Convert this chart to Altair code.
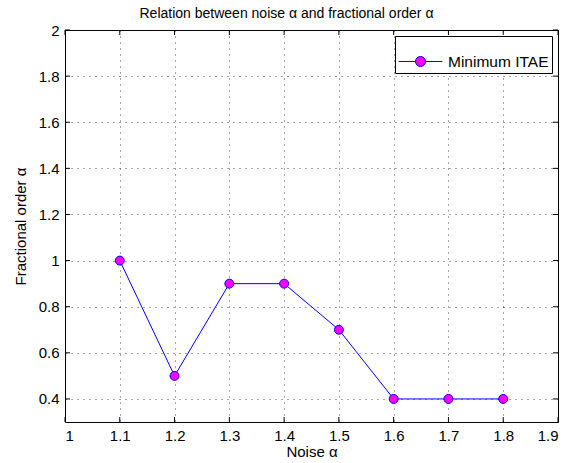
import altair as alt
import pandas as pd

noise = [1.1, 1.2, 1.3, 1.4, 1.5, 1.6, 1.7, 1.8]
order = [1.0, 0.5, 0.9, 0.9, 0.7, 0.4, 0.4, 0.4]
series_name = "Minimum ITAE"
x_ticks = [1.0, 1.1, 1.2, 1.3, 1.4, 1.5, 1.6, 1.7, 1.8, 1.9]
y_ticks = [0.4, 0.6, 0.8, 1.0, 1.2, 1.4, 1.6, 1.8, 2.0]

W, H = 493, 392
FONT = "Liberation Sans"

df = pd.DataFrame({"noise": noise, "order": order, "series": series_name})
xt = pd.DataFrame({"v": x_ticks})
yt = pd.DataFrame({"v": y_ticks})

xscale = alt.Scale(domain=[1.0, 1.9], nice=False, zero=False)
yscale = alt.Scale(domain=[0.3, 2.0], nice=False, zero=False)

common = dict(tickSize=0, grid=True, gridDash=[1, 5], gridColor="#000",
              gridOpacity=0.7, domain=False,
              labelFont=FONT, labelFontSize=15, labelColor="#000",
              titleFont=FONT, titleFontSize=15, titleFontWeight="normal", titleColor="#000")
xaxis = alt.Axis(values=x_ticks, format="~g", title="Noise α",
                 labelPadding=6, titlePadding=1, **common)
yaxis = alt.Axis(values=y_ticks, format="~g", title="Fractional order α",
                 labelPadding=6, titlePadding=10, **common)

sym_path = "M-1,0H-0.23 M0.23,0H1 M-0.23,0A0.23,0.23 0 1,1 0.23,0A0.23,0.23 0 1,1 -0.23,0"

legend = alt.Legend(title=None, orient="top-right", offset=6, strokeColor="#000",
                    fillColor="white", padding=3, labelFontSize=15.5, labelFont=FONT,
                    labelColor="#000",
                    symbolType=sym_path, symbolSize=1900, symbolStrokeWidth=1,
                    labelOffset=5,
                    symbolFillColor="magenta", symbolStrokeColor="blue")

base = alt.Chart(df)

line = base.mark_line(strokeWidth=1).encode(
    x=alt.X("noise:Q", scale=xscale, axis=xaxis),
    y=alt.Y("order:Q", scale=yscale, axis=yaxis),
    color=alt.Color("series:N", scale=alt.Scale(domain=[series_name], range=["blue"]),
                    legend=legend),
)

points = base.mark_point(filled=False, size=80, fill="magenta", stroke="blue",
                         strokeWidth=1, opacity=1, fillOpacity=1, shape="circle").encode(
    x=alt.X("noise:Q", scale=xscale),
    y=alt.Y("order:Q", scale=yscale),
)

tick_len = 5
xtick_b = alt.Chart(xt).mark_rule(color="#000", strokeWidth=1).encode(
    x=alt.X("v:Q", scale=xscale), y=alt.value(H), y2=alt.value(H - tick_len))
xtick_t = alt.Chart(xt).mark_rule(color="#000", strokeWidth=1).encode(
    x=alt.X("v:Q", scale=xscale), y=alt.value(0), y2=alt.value(tick_len))
ytick_l = alt.Chart(yt).mark_rule(color="#000", strokeWidth=1).encode(
    y=alt.Y("v:Q", scale=yscale), x=alt.value(0), x2=alt.value(tick_len))
ytick_r = alt.Chart(yt).mark_rule(color="#000", strokeWidth=1).encode(
    y=alt.Y("v:Q", scale=yscale), x=alt.value(W), x2=alt.value(W - tick_len))

chart = alt.layer(xtick_b, xtick_t, ytick_l, ytick_r, line, points).properties(
    width=W, height=H,
    background="white",
    title=alt.Title("Relation between noise α and fractional order α", fontSize=14,
                    font=FONT, fontWeight="normal", color="#000", offset=2, dx=-25),
    autosize=alt.AutoSizeParams(type="none"),
    padding={"left": 65, "top": 30, "right": 22, "bottom": 41},
).configure_view(stroke="#000", strokeWidth=1)

chart.save("out.html", embed_options={"renderer": "svg", "actions": False})
